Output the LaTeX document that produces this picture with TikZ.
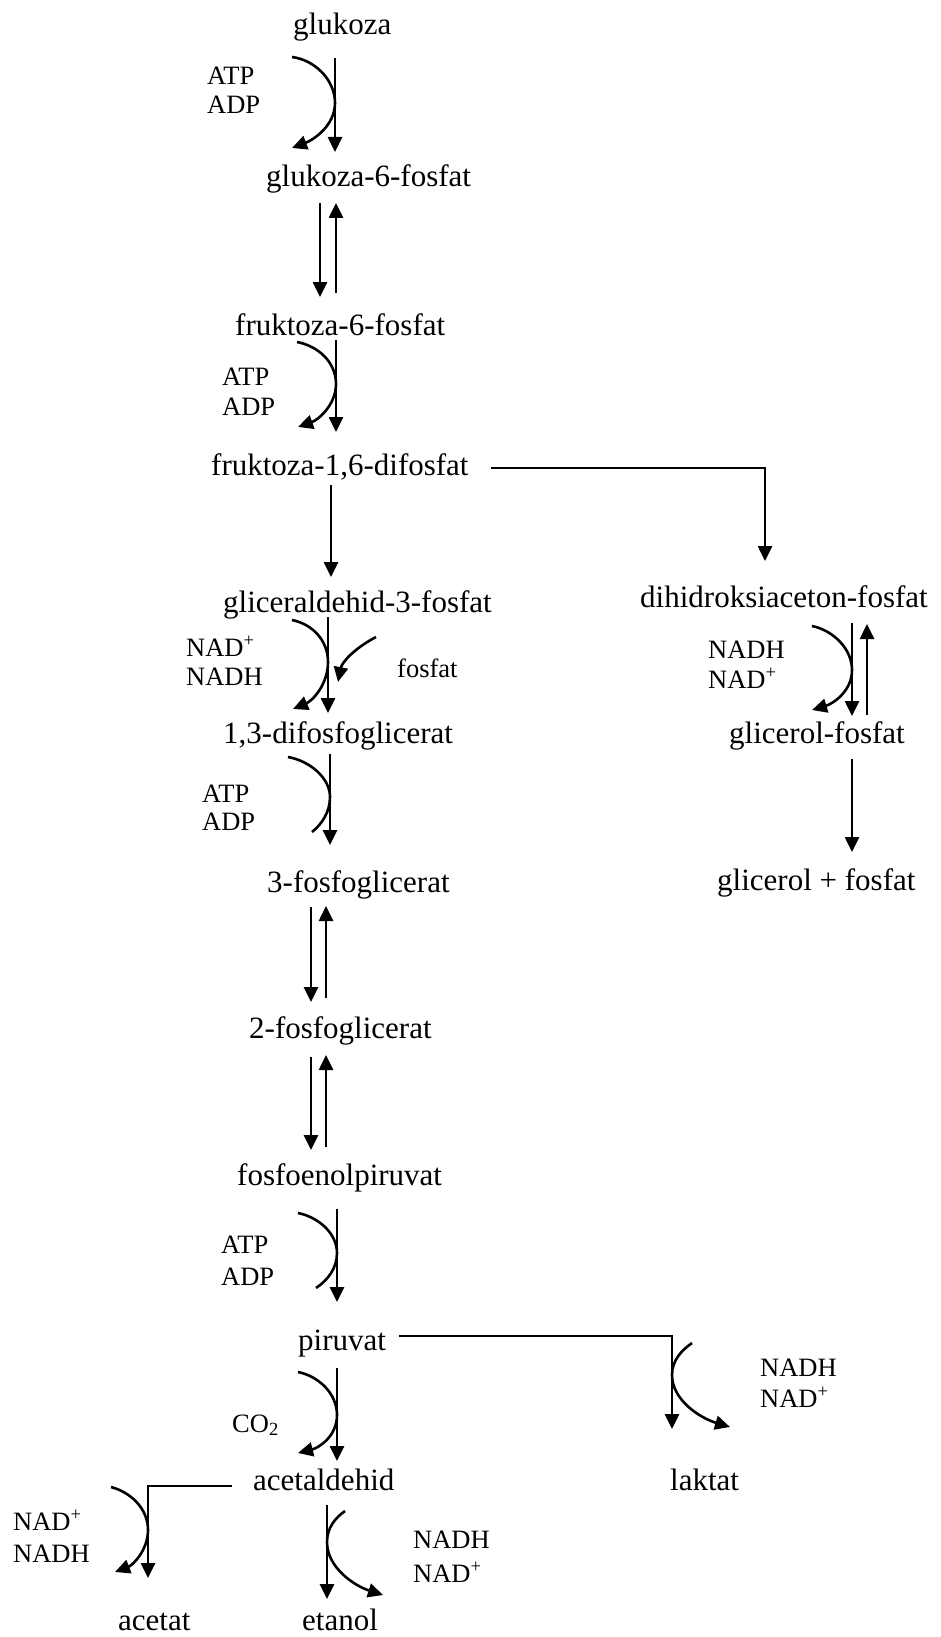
\documentclass[tikz,border=0pt]{standalone}
\usepackage{fontspec}
\setmainfont{Liberation Serif}
\usetikzlibrary{arrows.meta}
\begin{document}
\begin{tikzpicture}[x=1pt,y=-1pt,
  lbl/.style={font=\fontsize{31}{37}\selectfont, inner sep=0pt, anchor=base west},
  sml/.style={font=\fontsize{26.5}{31}\selectfont, inner sep=0pt, anchor=base west},
  ln/.style={line width=2.6pt},
  arr/.style={line width=2.6pt, -{Triangle[width=14pt,length=15pt]}}]
\useasboundingbox[fill=white] (0,0) rectangle (941,1637);
% main labels
\node[lbl] (glu)   at (293,35)   {glukoza};
\node[lbl] (g6p)   at (266,187)  {glukoza-6-fosfat};
\node[lbl] (f6p)   at (235,335)  {fruktoza-6-fosfat};
\node[lbl] (f16dp) at (211,475)  {fruktoza-1,6-difosfat};
\node[lbl] (gap)   at (223,612)  {gliceraldehid-3-fosfat};
\node[lbl] (dhap)  at (640,607)  {dihidroksiaceton-fosfat};
\node[lbl] (dpg)   at (223,743)  {1,3-difosfoglicerat};
\node[lbl] (glyp)  at (729,743)  {glicerol-fosfat};
\node[lbl] (pg3)   at (267,892)  {3-fosfoglicerat};
\node[lbl] (glyf)  at (717,890)  {glicerol + fosfat};
\node[lbl] (pg2)   at (249,1038) {2-fosfoglicerat};
\node[lbl] (pep)   at (237,1185) {fosfoenolpiruvat};
\node[lbl] (pir)   at (298,1350) {piruvat};
\node[lbl] (ald)   at (253,1490) {acetaldehid};
\node[lbl] (lak)   at (670,1490) {laktat};
\node[lbl] (act)   at (118,1630) {acetat};
\node[lbl] (eta)   at (302,1630) {etanol};
% small labels
\node[sml] (atp1) at (207,85)  {ATP};
\node[sml] (adp1) at (207,114) {ADP};
\node[sml] (atp2) at (222,385) {ATP};
\node[sml] (adp2) at (222,415) {ADP};
\node[sml] (nad1) at (186,656) {NAD\textsuperscript{+}};
\node[sml] (nadh1) at (186,685) {NADH};
\node[sml] (fos)  at (397,677) {fosfat};
\node[sml] (nadh2) at (708,658) {NADH};
\node[sml] (nad2) at (708,688) {NAD\textsuperscript{+}};
\node[sml] (atp3) at (202,802) {ATP};
\node[sml] (adp3) at (202,830) {ADP};
\node[sml] (atp4) at (221,1253) {ATP};
\node[sml] (adp4) at (221,1285) {ADP};
\node[sml] (nadh3) at (760,1376) {NADH};
\node[sml] (nad3) at (760,1407) {NAD\textsuperscript{+}};
\node[sml] (co2)  at (232,1432) {CO\textsubscript{2}};
\node[sml] (nad4) at (13,1530) {NAD\textsuperscript{+}};
\node[sml] (nadh4) at (13,1562) {NADH};
\node[sml] (nadh5) at (413,1548) {NADH};
\node[sml] (nad5) at (413,1582) {NAD\textsuperscript{+}};
% glukoza -> g6p
\draw[arr] (335,58) -- (335,152);
\draw[arr] (292,57) .. controls (315,60) and (335,80) .. (335,103) .. controls (335,126) and (313,140) .. (292,148);
% g6p <-> f6p
\draw[arr] (320,203) -- (320,297);
\draw[arr] (336,293) -- (336,203);
% f6p -> f16dp
\draw[arr] (336,340) -- (336,432);
\draw[arr] (297,342) .. controls (318,346) and (336,362) .. (336,384) .. controls (336,405) and (318,420) .. (298,427);
% f16dp -> gap, dhap
\draw[arr] (331,485) -- (331,577);
\draw[arr] (491,468) -| (765,561);
% gap -> dpg
\draw[arr] (328,617) -- (328,713);
\draw[arr] (292,620) .. controls (312,624) and (328,640) .. (328,662) .. controls (328,685) and (312,701) .. (293,709);
\draw[arr] (376,637) .. controls (355,648) and (342,662) .. (338,682);
% dhap <-> glyp
\draw[arr] (852,623) -- (852,716);
\draw[arr] (867,715) -- (867,624);
\draw[arr] (812,626) .. controls (832,630) and (852,648) .. (852,670) .. controls (852,692) and (832,704) .. (812,710);
\draw[arr] (852,759) -- (852,852);
% dpg -> pg3
\draw[arr] (330,754) -- (330,845);
\draw[ln] (288,757) .. controls (310,761) and (330,778) .. (330,797) .. controls (330,812) and (322,824) .. (312,832);
% pg3 <-> pg2 <-> pep
\draw[arr] (311,907) -- (311,1002);
\draw[arr] (326,998) -- (326,906);
\draw[arr] (311,1057) -- (311,1150);
\draw[arr] (326,1147) -- (326,1055);
% pep -> pir
\draw[arr] (337,1209) -- (337,1302);
\draw[ln] (298,1213) .. controls (318,1217) and (337,1233) .. (337,1253) .. controls (337,1268) and (328,1280) .. (316,1288);
% pir -> ald
\draw[arr] (337,1368) -- (337,1461);
\draw[arr] (298,1372) .. controls (318,1376) and (337,1393) .. (337,1415) .. controls (337,1437) and (318,1448) .. (298,1453);
% pir -> lak
\draw[arr] (399,1336) -| (672,1429);
\draw[arr] (692,1343) .. controls (682,1350) and (672,1360) .. (672,1375) .. controls (672,1400) and (700,1418) .. (730,1427);
% ald -> act
\draw[arr] (232,1486) -| (148,1578);
\draw[arr] (111,1487) .. controls (130,1492) and (148,1508) .. (148,1530) .. controls (148,1550) and (133,1565) .. (115,1572);
% ald -> eta
\draw[arr] (327,1505) -- (327,1599);
\draw[arr] (345,1511) .. controls (335,1518) and (327,1528) .. (327,1542) .. controls (327,1568) and (355,1586) .. (383,1595);
\end{tikzpicture}
\end{document}
